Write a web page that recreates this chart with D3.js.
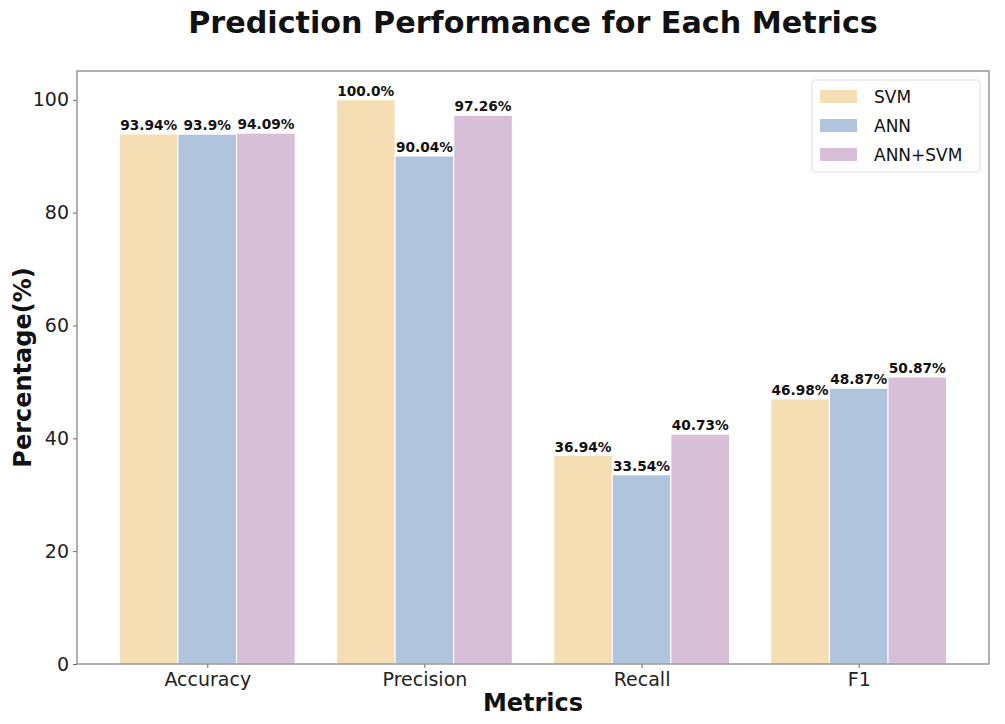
<!DOCTYPE html>
<html>
<head>
<meta charset="utf-8">
<script src="https://cdn.jsdelivr.net/npm/d3@7"></script>
<style>
  body { margin: 0; background: #fff; }
  text { font-family: "DejaVu Sans", sans-serif; }
</style>
</head>
<body>
<div id="chart"></div>
<script>
const metrics = ['Accuracy', 'Precision', 'Recall', 'F1'];
const models = ['SVM', 'ANN', 'ANN+SVM'];
const svmValues = [93.94, 100.0, 36.94, 46.98];
const annValues = [93.9, 90.04, 33.54, 48.87];
const hybridValues = [94.09, 97.26, 40.73, 50.87];
const labelsSvm = ['93.94%', '100.0%', '36.94%', '46.98%'];
const labelsAnn = ['93.9%', '90.04%', '33.54%', '48.87%'];
const labelsHybrid = ['94.09%', '97.26%', '40.73%', '50.87%'];
const yTicks = [0, 20, 40, 60, 80, 100];
const colors = ['#F5DEB3', '#B0C4DE', '#D8BFD8'];

const series = [
  { name: models[0], values: svmValues, labels: labelsSvm },
  { name: models[1], values: annValues, labels: labelsAnn },
  { name: models[2], values: hybridValues, labels: labelsHybrid }
];

const W = 1005, H = 724;
const m = { left: 77, right: 16, top: 71, bottom: 60 };
const iw = W - m.left - m.right;
const ih = H - m.top - m.bottom;
const barW = 0.27;

const svg = d3.select('#chart').append('svg')
  .attr('width', W).attr('height', H);

const x = d3.scaleLinear().domain([-0.6, 3.6]).range([0, iw]);
const y = d3.scaleLinear().domain([0, 105.1]).range([ih, 0]);

const g = svg.append('g').attr('transform', `translate(${m.left},${m.top})`);

// bars
series.forEach((s, si) => {
  const off = (si - 1) * barW;
  g.selectAll(null)
    .data(s.values)
    .enter()
    .append('rect')
    .attr('x', (d, i) => x(i + off - barW / 2))
    .attr('width', x(barW) - x(0))
    .attr('y', d => y(d))
    .attr('height', d => y(0) - y(d))
    .attr('fill', colors[si])
    .attr('stroke', '#fff')
    .attr('stroke-width', 1);

  g.selectAll(null)
    .data(s.values)
    .enter()
    .append('text')
    .attr('x', (d, i) => x(i + off))
    .attr('y', d => y(d) - 4)
    .attr('text-anchor', 'middle')
    .attr('font-size', 13.7)
    .attr('font-weight', 'bold')
    .attr('fill', '#111')
    .text((d, i) => s.labels[i]);
});

// axes
const yAxis = g.append('g')
  .call(d3.axisLeft(y).tickValues(yTicks).tickSize(4).tickPadding(4).tickFormat(d3.format('d')));
yAxis.select('.domain').remove();
yAxis.selectAll('line').attr('stroke', '#666');
yAxis.selectAll('text').attr('font-size', 19).attr('fill', '#222')
  .attr('font-family', '"DejaVu Sans", sans-serif');

const xAxis = g.append('g').attr('transform', `translate(0,${ih})`)
  .call(d3.axisBottom(x).tickValues(d3.range(metrics.length)).tickSize(4).tickPadding(5)
    .tickFormat(i => metrics[i]));
xAxis.select('.domain').remove();
xAxis.selectAll('line').attr('stroke', '#666');
xAxis.selectAll('text').attr('font-size', 19).attr('fill', '#222')
  .attr('font-family', '"DejaVu Sans", sans-serif');

// frame
g.append('rect')
  .attr('width', iw).attr('height', ih)
  .attr('fill', 'none').attr('stroke', '#888').attr('stroke-width', 1.3);

// titles
svg.append('text')
  .attr('x', 533).attr('y', 33)
  .attr('text-anchor', 'middle')
  .attr('font-size', 30.2).attr('font-weight', 'bold').attr('fill', '#111')
  .text('Prediction Performance for Each Metrics');

svg.append('text')
  .attr('x', m.left + iw / 2).attr('y', 711)
  .attr('text-anchor', 'middle')
  .attr('font-size', 24).attr('font-weight', 'bold').attr('fill', '#111')
  .text('Metrics');

svg.append('text')
  .attr('transform', `translate(31,${m.top + ih / 2}) rotate(-90)`)
  .attr('text-anchor', 'middle')
  .attr('font-size', 24).attr('font-weight', 'bold').attr('fill', '#111')
  .text('Percentage(%)');

// legend
const lg = svg.append('g').attr('transform', 'translate(812,80)');
lg.append('rect')
  .attr('width', 168).attr('height', 92).attr('rx', 3)
  .attr('fill', '#fff').attr('stroke', '#ddd');
const li = lg.selectAll('g.item')
  .data(models)
  .enter()
  .append('g')
  .attr('class', 'item')
  .attr('transform', (d, i) => `translate(8,${10 + i * 29})`);
li.append('rect')
  .attr('width', 37).attr('height', 13)
  .attr('fill', (d, i) => colors[i]);
li.append('text')
  .attr('x', 54).attr('y', 13)
  .attr('font-size', 17).attr('fill', '#111')
  .text(d => d);
</script>
</body>
</html>
